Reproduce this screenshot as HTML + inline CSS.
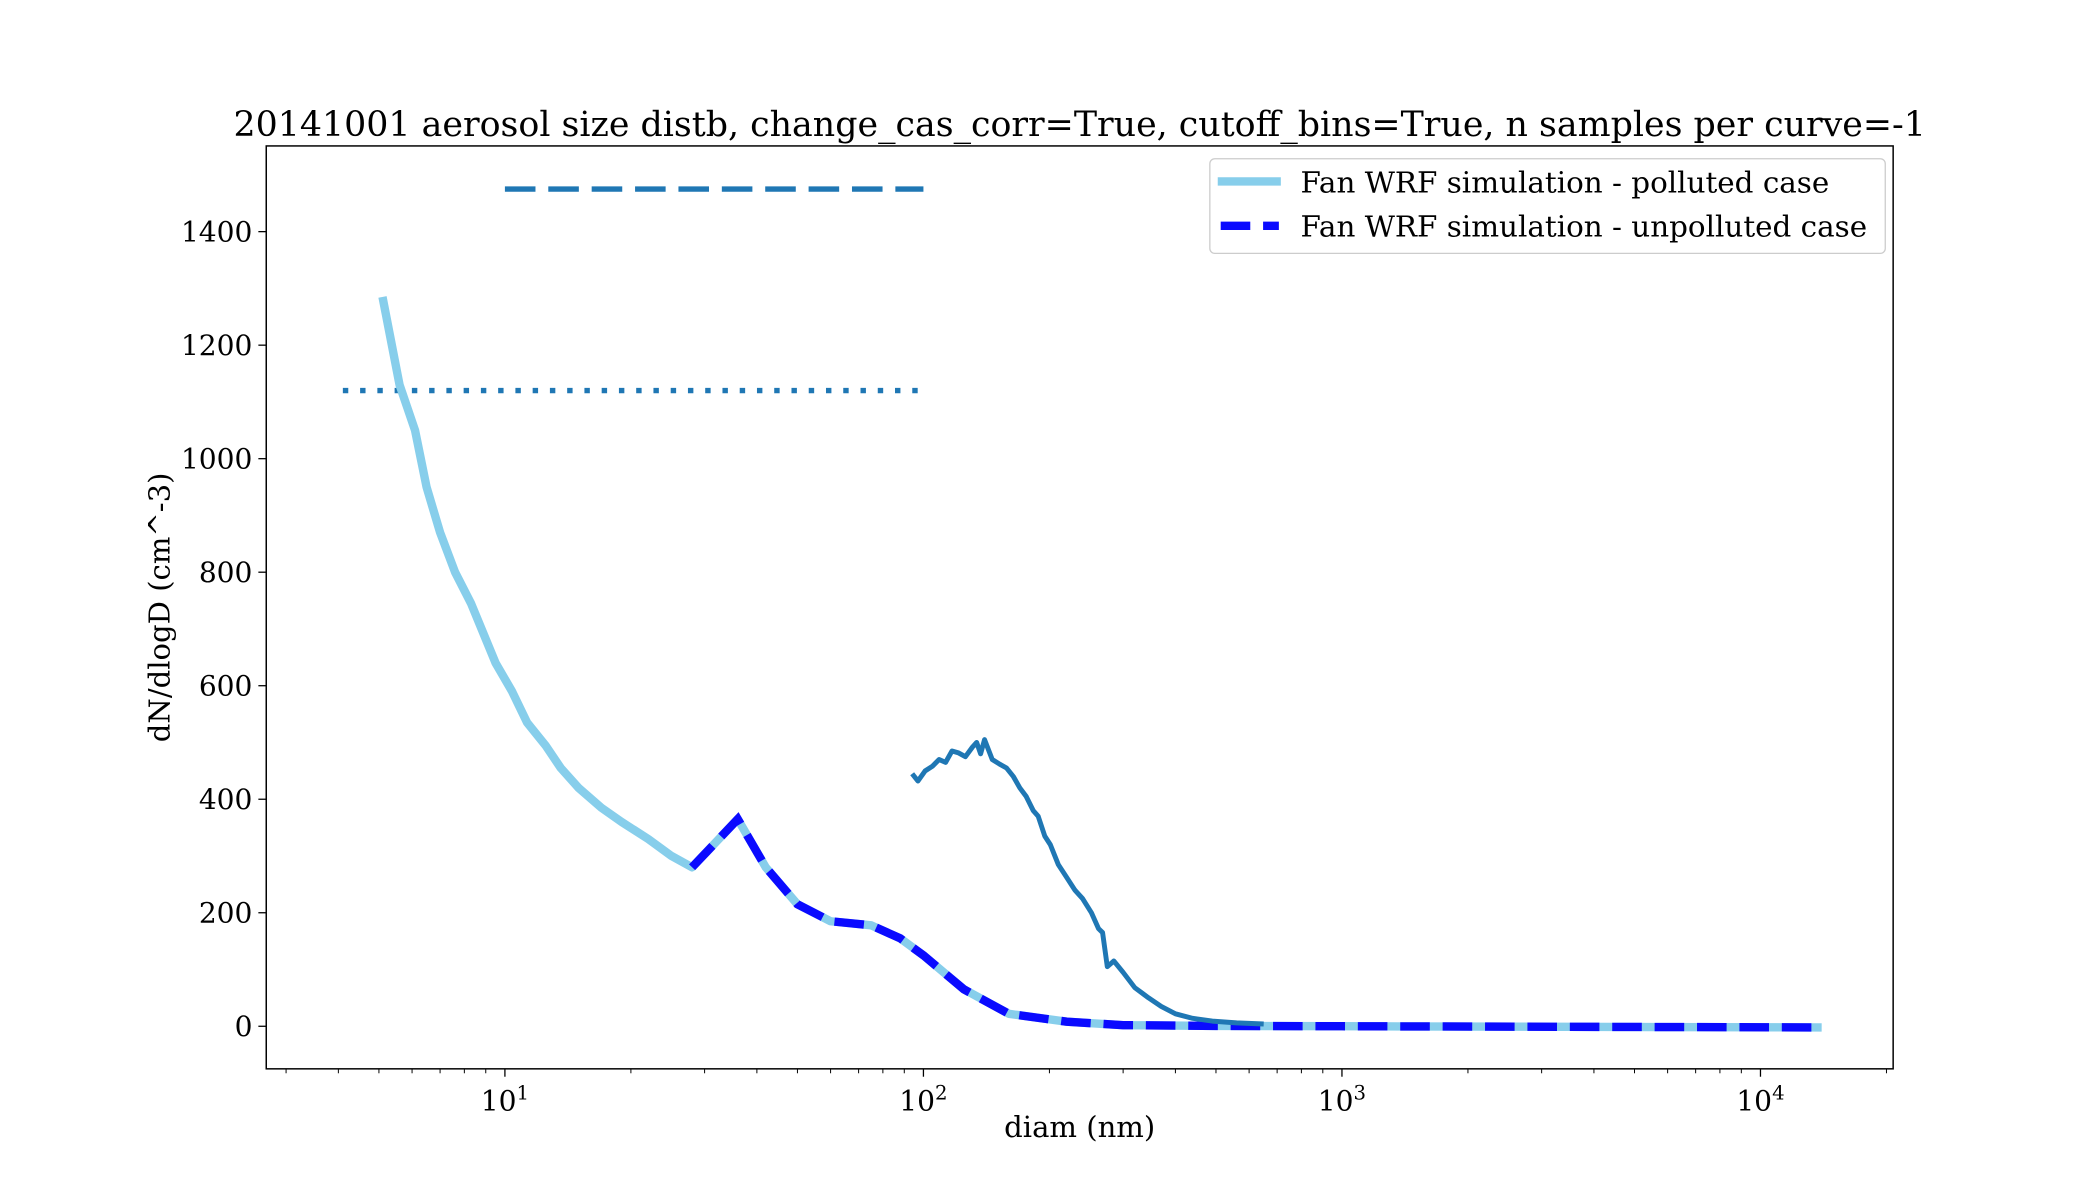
<!DOCTYPE html>
<html><head><meta charset="utf-8">
<style>
html,body{margin:0;padding:0;background:#fff;}
svg{display:block;font-family:"DejaVu Serif","Liberation Serif",serif;}
</style></head>
<body>
<svg id="chart" width="2100" height="1200" viewBox="0 0 2100 1200"><g id="root" transform="translate(2,1) scale(0.986)"></g></svg>
<script>
const polDiam = [5.1,5.6,6.1,6.5,7,7.6,8.3,9.5,10.4,11.3,12.5,13.6,15,17,19,22,25,28,36,42,50,60,75,88,100,125,160,220,300,500,1000,14000];
const polVals = [1285,1130,1050,950,870,800,745,640,590,535,495,455,420,385,360,330,300,280,365,280,215,185,178,155,125,65,22,8,2,0.5,0,-2];
const unpDiam = [28,36,42,50,60,75,88,100,125,160,220,300,500,1000,14000];
const unpVals = [280,365,280,215,185,178,155,125,65,22,8,2,0.5,0,-2];
const measDiam = [94,97,101,105,109,113,117,121,126,131,134,137,140,146,152,158,164,170,176,183,188,195,201,210,220,230,240,252,262,268,275,285,300,320,345,370,400,440,490,560,650];
const measVals = [445,432,450,458,470,465,485,482,475,492,500,480,505,470,462,455,440,420,405,380,370,335,320,285,262,240,225,200,172,165,105,115,95,68,50,35,22,14,9,6,4];
const dashLevel = [1475];
const dashRange = [10,100];
const dotLevel = [1120];
const dotRange = [4.1,100];
const yTicks = [0,200,400,600,800,1000,1200,1400];
const xDecades = [1,2,3,4];

const L=268,R=1918,T=147,B=1083;
const xmin=Math.log10(2.69), xmax=4.317, ymin=-75, ymax=1551;
const X=d=>L+(Math.log10(d)-xmin)/(xmax-xmin)*(R-L);
const Y=v=>B-(v-ymin)/(ymax-ymin)*(B-T);
const svg=document.getElementById('root');
const NS='http://www.w3.org/2000/svg';
function mk(tag,attrs,parent){const e=document.createElementNS(NS,tag);for(const k in attrs)e.setAttribute(k,attrs[k]);(parent||svg).appendChild(e);return e;}

const t=mk('text',{x:1093,y:137,'font-size':35.3,'text-anchor':'middle'});
t.textContent='20141001 aerosol size distb, change_cas_corr=True, cutoff_bins=True, n samples per curve=-1';



yTicks.forEach(v=>{
  const y=Y(v);
  mk('line',{x1:L-8,x2:L,y1:y,y2:y,stroke:'#000','stroke-width':1.3});
  const tx=mk('text',{x:L-14,y:y+10,'font-size':28.5,'text-anchor':'end'});
  tx.textContent=v;
  
  
});
for(let e=0;e<=4;e++){
  for(let m=1;m<10;m++){
    const d=m*Math.pow(10,e);
    const lg=Math.log10(d);
    if(lg<xmin||lg>xmax)continue;
    const x=X(d);
    mk('line',{x1:x,x2:x,y1:B,y2:B+(m===1?8:4.5),stroke:'#000','stroke-width':m===1?1.3:1});
  }
}
xDecades.forEach(e=>{
  const x=X(Math.pow(10,e));
  const tx=mk('text',{x:x,y:B+42,'font-size':28.5,'text-anchor':'middle'});
  tx.innerHTML='10<tspan dy="-11" font-size="20">'+e+'</tspan>';
  
  
});

function path(xs,ys){return xs.map((d,i)=>(i?'L':'M')+X(d).toFixed(1)+','+Y(ys[i]).toFixed(1)).join(' ');}

const dl=mk('line',{x1:X(dashRange[0]),x2:X(dashRange[1]),y1:Y(dashLevel[0]),y2:Y(dashLevel[0]),stroke:'#1f77b4','stroke-width':5.5,'stroke-dasharray':'31,13'});


const dt=mk('line',{x1:X(dotRange[0]),x2:X(dotRange[1]),y1:Y(dotLevel[0]),y2:Y(dotLevel[0]),stroke:'#1f77b4','stroke-width':5.5,'stroke-dasharray':'5.5,12'});



const pp=mk('path',{d:path(polDiam,polVals),fill:'none',stroke:'#87ceeb','stroke-width':8.5,'stroke-linejoin':'round'});


const up=mk('path',{d:path(unpDiam,unpVals),fill:'none',stroke:'#0a0aff','stroke-width':8.5,'stroke-dasharray':'30,13'});


const mp=mk('path',{d:path(measDiam,measVals),fill:'none',stroke:'#1f77b4','stroke-width':5,'stroke-linejoin':'round'});



const fr=mk('rect',{x:L,y:T,width:R-L,height:B-T,fill:'none',stroke:'#000','stroke-width':1.5});



const xl=mk('text',{x:(L+R)/2,y:1152,'font-size':29.5,'text-anchor':'middle'});
xl.textContent='diam (nm)';


const yl=mk('text',{x:0,y:0,'font-size':29.5,'text-anchor':'middle',transform:'translate(170,615) rotate(-90)'});
yl.textContent='dN/dlogD (cm^-3)';



const lg=mk('g',{});


mk('rect',{x:1225,y:160,width:685,height:96,rx:5,fill:'#fff','fill-opacity':0.8,stroke:'#ccc','stroke-width':1.3},lg);
mk('line',{x1:1233,x2:1297,y1:183,y2:183,stroke:'#87ceeb','stroke-width':8.5},lg);
mk('line',{x1:1236,x2:1295,y1:228,y2:228,stroke:'#0a0aff','stroke-width':8.5,'stroke-dasharray':'30,13'},lg);
const l1=mk('text',{x:1317,y:194,'font-size':29.8},lg);
l1.textContent='Fan WRF simulation - polluted case';


const l2=mk('text',{x:1317,y:239,'font-size':29.8},lg);
l2.textContent='Fan WRF simulation - unpolluted case';


</script>
</body></html>
